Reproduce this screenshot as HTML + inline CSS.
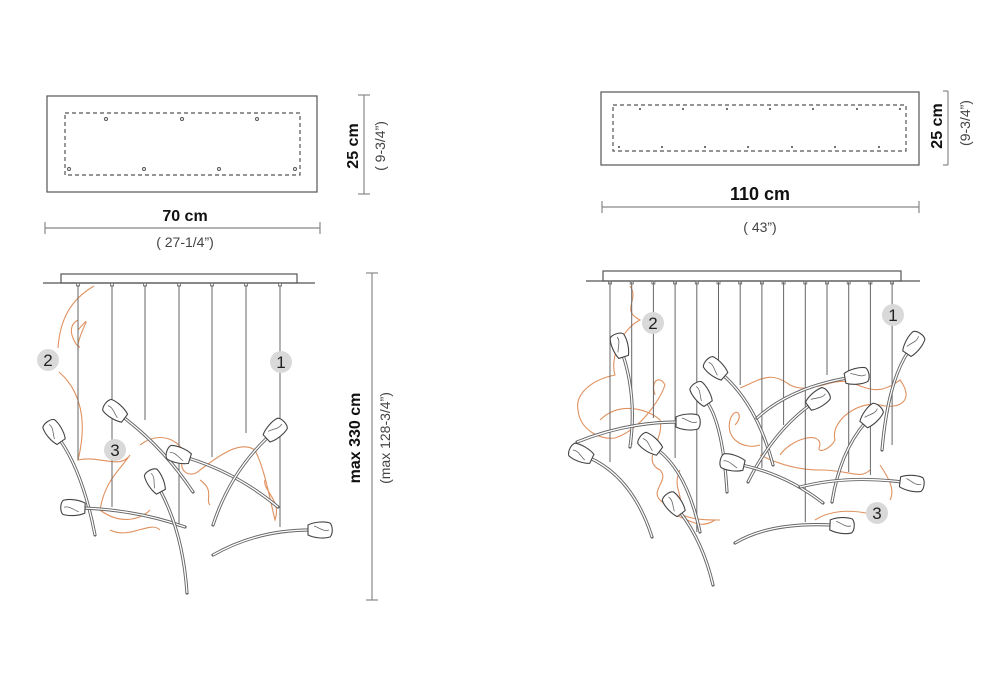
<!DOCTYPE html>
<html><head><meta charset="utf-8"><style>
html,body{margin:0;padding:0;background:#fff}
svg{display:block}
text{font-family:"Liberation Sans",sans-serif}
</style></head><body>
<svg id="s" width="1000" height="700" viewBox="0 0 1000 700" xmlns="http://www.w3.org/2000/svg">
<g fill="none" stroke="#555" stroke-width="1.2">
<!-- left top -->
<rect x="47" y="96" width="270" height="96"/>
<rect x="65" y="113" width="235" height="62" stroke-dasharray="4,3"/>
<line x1="364" y1="95" x2="364" y2="194" stroke="#888"/>
<line x1="358" y1="95" x2="370" y2="95" stroke="#888"/>
<line x1="358" y1="194" x2="370" y2="194" stroke="#888"/>
<line x1="45" y1="228" x2="320" y2="228" stroke="#888"/>
<line x1="45" y1="222" x2="45" y2="234" stroke="#888"/>
<line x1="320" y1="222" x2="320" y2="234" stroke="#888"/>
<!-- right top -->
<rect x="601" y="92" width="318" height="73"/>
<rect x="613" y="105" width="293" height="46" stroke-dasharray="4,3"/>
<line x1="948" y1="91" x2="948" y2="165" stroke="#888"/>
<line x1="943" y1="91" x2="948" y2="91" stroke="#888"/>
<line x1="943" y1="165" x2="948" y2="165" stroke="#888"/>
<line x1="602" y1="207" x2="919" y2="207" stroke="#888"/>
<line x1="602" y1="201" x2="602" y2="213" stroke="#888"/>
<line x1="919" y1="201" x2="919" y2="213" stroke="#888"/>
<!-- left bottom -->
<rect x="61" y="274" width="236" height="9"/>
<line x1="43" y1="283" x2="315" y2="283"/>
<line x1="372" y1="273" x2="372" y2="600" stroke="#888"/>
<line x1="366" y1="273" x2="378" y2="273" stroke="#888"/>
<line x1="366" y1="600" x2="378" y2="600" stroke="#888"/>
<!-- right bottom -->
<rect x="603" y="271" width="298" height="10"/>
<line x1="586" y1="281" x2="920" y2="281"/>
</g>
<g fill="none" stroke="#555" stroke-width="1">
<circle cx="106" cy="119" r="1.5"/><circle cx="182" cy="119" r="1.5"/><circle cx="257" cy="119" r="1.5"/>
<circle cx="69" cy="169" r="1.5"/><circle cx="144" cy="169" r="1.5"/><circle cx="219" cy="169" r="1.5"/><circle cx="295" cy="169" r="1.5"/>
</g>
<g fill="#444">
<circle cx="640" cy="109" r="1"/><circle cx="683" cy="109" r="1"/><circle cx="727" cy="109" r="1"/><circle cx="770" cy="109" r="1"/><circle cx="813" cy="109" r="1"/><circle cx="857" cy="109" r="1"/><circle cx="900" cy="109" r="1"/>
<circle cx="619" cy="147" r="1"/><circle cx="662" cy="147" r="1"/><circle cx="705" cy="147" r="1"/><circle cx="748" cy="147" r="1"/><circle cx="792" cy="147" r="1"/><circle cx="835" cy="147" r="1"/><circle cx="879" cy="147" r="1"/>
</g>
<g fill="#111">
<text x="185" y="221" font-size="16" font-weight="bold" text-anchor="middle">70 cm</text>
<text x="185" y="247" font-size="14" fill="#444" text-anchor="middle">( 27-1/4”)</text>
<text transform="translate(358,146) rotate(-90)" font-size="16" font-weight="bold" text-anchor="middle">25 cm</text>
<text transform="translate(385,146) rotate(-90)" font-size="14" fill="#444" text-anchor="middle">( 9-3/4”)</text>
<text x="760" y="200" font-size="18" font-weight="bold" text-anchor="middle">110 cm</text>
<text x="760" y="232" font-size="14" fill="#444" text-anchor="middle">( 43”)</text>
<text transform="translate(942,126) rotate(-90)" font-size="16" font-weight="bold" text-anchor="middle">25 cm</text>
<text transform="translate(970,123) rotate(-90)" font-size="14" fill="#444" text-anchor="middle">(9-3/4”)</text>
<text transform="translate(360,438) rotate(-90)" font-size="16" font-weight="bold" text-anchor="middle">max 330 cm</text>
<text transform="translate(390,438) rotate(-90)" font-size="14" fill="#444" text-anchor="middle">(max 128-3/4”)</text>
</g>
<g id="or" fill="none" stroke="#e0915f" stroke-width="1.1">
<path d="M94,286 C70,300 60,320 58,348 M59,372 C80,390 88,420 78,460 C100,455 120,470 130,455 C120,470 105,480 100,510 C120,525 140,520 150,510"/>
<path d="M78,330 C95,310 80,330 78,345 C85,355 60,330 78,320"/>
<path d="M140,445 C160,430 180,440 185,455 C175,470 190,480 200,470 C220,455 240,440 255,450 C265,470 270,500 275,520 C282,500 262,490 265,480"/>
<path d="M110,530 C130,540 150,520 160,530 M200,480 C215,490 205,500 210,505"/>
<!-- right -->
<path d="M630,286 C640,300 620,310 640,320 C620,330 610,360 615,375 C590,380 575,395 578,410 C580,430 600,440 615,438 C640,430 660,400 665,385 C660,375 650,380 655,395"/>
<path d="M600,420 C620,400 650,410 660,420 C665,440 640,460 660,470 C670,480 650,490 660,500 C680,520 700,520 720,520"/>
<path d="M740,388 C760,380 770,370 790,385 C810,395 830,378 850,382 C870,390 880,395 900,380 C915,400 900,410 880,405 C860,400 830,420 835,440 C830,450 815,455 820,445 C820,430 790,440 780,455"/>
<path d="M735,425 C745,415 735,405 730,420 C725,440 745,450 760,445 M760,455 C780,465 800,470 820,470 C850,470 860,480 870,470"/>
<path d="M815,520 C830,510 850,510 866,513 M880,465 C890,480 895,490 890,500"/>
<path d="M680,470 C670,490 690,500 675,515 C690,520 700,530 715,520"/>
</g>
<g id="fl"></g>
<g id="bd"></g>
</svg>
<script>
var ns="http://www.w3.org/2000/svg",s=document.getElementById('s');
function el(t,a,p){var e=document.createElementNS(ns,t);for(var k in a)e.setAttribute(k,a[k]);(p||s).appendChild(e);return e;}
var fl=document.getElementById('fl'),bd=document.getElementById('bd');
// wires
var lw=[[78,460],[112,507],[145,420],[179,527],[212,457],[246,433],[280,527]];
lw.forEach(function(w){el('line',{x1:w[0],y1:285,x2:w[0],y2:w[1],stroke:'#666','stroke-width':1},fl);el('rect',{x:w[0]-1.5,y:283,width:3,height:3,fill:'none',stroke:'#666','stroke-width':0.8},fl);});
var rwE=[462,445,418,458,532,378,385,468,425,522,375,472,475,445];
for(var i=0;i<14;i++){var x=610+i*21.7;el('line',{x1:x,y1:282,x2:x,y2:rwE[i],stroke:'#666','stroke-width':1},fl);el('rect',{x:x-1.5,y:281,width:3,height:3,fill:'none',stroke:'#666','stroke-width':0.8},fl);}
function flower(h,c,e){
 var d='M'+h[0]+','+h[1]+' Q'+c[0]+','+c[1]+' '+e[0]+','+e[1];
 el('path',{d:d,fill:'none',stroke:'#666','stroke-width':3.2,'stroke-linecap':'round'},fl);
 el('path',{d:d,fill:'none',stroke:'#fff','stroke-width':1.3},fl);
 var a=Math.atan2(h[1]-c[1],h[0]-c[0])*180/Math.PI;
 var g=el('g',{transform:'translate('+h[0]+','+h[1]+') rotate('+a+')'},fl);
 el('path',{d:'M-2,-5 C4,-8 14,-9 20,-7 C23,-4 23,4 20,7 C14,9 4,8 -2,5 Z',fill:'#fff',stroke:'#444','stroke-width':1.1},g);
 el('path',{d:'M4,-4 C10,-2 14,2 19,0',fill:'none',stroke:'#666','stroke-width':0.8},g);
}
[[[60,440],[83,473],[95,535]],[[123,417],[163,447],[193,492]],[[83,508],[137,510],[185,527]],[[160,490],[183,533],[187,593]],[[188,458],[237,473],[278,507]],[[268,437],[230,473],[213,525]],[[310,530],[257,530],[213,555]],
[[623,355],[637,398],[630,447]],[[678,422],[627,422],[577,442]],[[590,458],[633,478],[652,537]],[[658,450],[687,472],[700,532]],[[680,512],[703,542],[713,585]],[[723,375],[757,405],[773,465]],[[707,402],[723,425],[727,492]],[[847,378],[790,388],[757,418]],[[810,405],[773,432],[748,482]],[[742,465],[787,475],[823,503]],[[908,352],[888,382],[882,450]],[[865,423],[840,452],[832,502]],[[902,482],[847,475],[800,487]],[[832,525],[770,522],[735,543]]
].forEach(function(f){flower(f[0],f[1],f[2]);});
[[48,360,'2'],[115,450,'3'],[281,362,'1'],[653,323,'2'],[893,315,'1'],[877,513,'3']].forEach(function(b){
 el('circle',{cx:b[0],cy:b[1],r:11,fill:'#d9d9d9'},bd);
 var t=el('text',{x:b[0],y:b[1]+6,'font-size':17,'text-anchor':'middle',fill:'#222'},bd);t.textContent=b[2];
});
</script>
</body></html>
